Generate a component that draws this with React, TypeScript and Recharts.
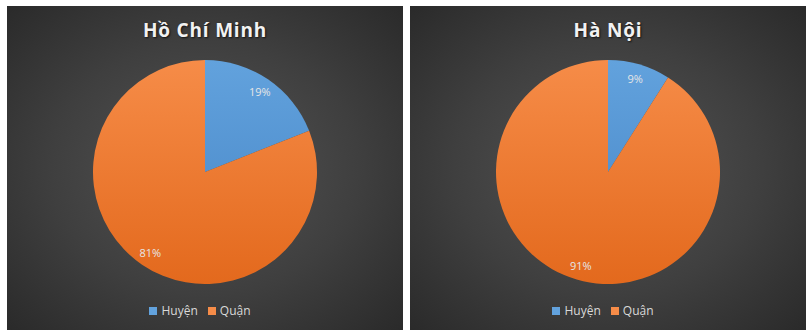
import { Cell, Legend, Pie, PieChart } from "recharts";

const categories = ["Huyện", "Quận"];
const hcmValues = [19, 81];
const hanoiValues = [9, 91];
const cityTitles = ["Hồ Chí Minh", "Hà Nội"];

const PANEL_W = 396;
const PANEL_H = 324;
const RADIUS = 112;
const CY = 166;

const RAD = Math.PI / 180;

function renderLabel(props: any) {
  const { cx, cy, midAngle, outerRadius, percent } = props;
  const r = outerRadius * 0.87;
  const x = cx + r * Math.cos(-midAngle * RAD);
  const y = cy + r * Math.sin(-midAngle * RAD);
  return (
    <text
      x={x}
      y={y}
      fill="#e6e6e6"
      fontSize={11}
      fontFamily="'Open Sans', sans-serif"
      textAnchor="middle"
      dominantBaseline="central"
    >
      {`${Math.round(percent * 100)}%`}
    </text>
  );
}

function CityPie({ title, values, id }: { title: string; values: number[]; id: string }) {
  const data = categories.map((name, i) => ({ name, value: values[i] }));
  return (
    <div
      style={{
        position: "absolute",
        top: 0,
        left: 0,
        width: PANEL_W,
        height: PANEL_H,
        background: "radial-gradient(ellipse at 50% 50%, #545454 0%, #3f3f3f 55%, #2a2a2a 100%)",
      }}
    >
      <div
        style={{
          position: "absolute",
          top: 11,
          left: 0,
          width: PANEL_W,
          textAlign: "center",
          color: "#f2f2f2",
          fontFamily: "'Open Sans', sans-serif",
          fontWeight: 700,
          fontSize: 19,
          letterSpacing: 0.8,
          textShadow: "1px 1px 2px rgba(0,0,0,0.7)",
        }}
      >
        {title}
      </div>
      <PieChart
        width={PANEL_W}
        height={PANEL_H}
        margin={{ top: 0, right: 0, bottom: 0, left: 0 }}
        style={{ position: "absolute", top: 0, left: 0 }}
      >
        <defs>
          <linearGradient id={`${id}-blue`} gradientUnits="userSpaceOnUse" x1="0" y1={CY - RADIUS} x2="0" y2={CY + RADIUS}>
            <stop offset="0%" stopColor="#62a2dd" />
            <stop offset="100%" stopColor="#4584c5" />
          </linearGradient>
          <linearGradient id={`${id}-orange`} gradientUnits="userSpaceOnUse" x1="0" y1={CY - RADIUS} x2="0" y2={CY + RADIUS}>
            <stop offset="0%" stopColor="#f68c48" />
            <stop offset="100%" stopColor="#e3691d" />
          </linearGradient>
        </defs>
        <Pie
          data={data}
          dataKey="value"
          nameKey="name"
          cx={PANEL_W / 2}
          cy={CY}
          outerRadius={RADIUS}
          startAngle={90}
          endAngle={-270}
          stroke="none"
          label={renderLabel}
          labelLine={false}
          isAnimationActive={false}
        >
          <Cell fill={`url(#${id}-blue)`} />
          <Cell fill={`url(#${id}-orange)`} />
        </Pie>
        <Legend
          verticalAlign="bottom"
          iconType="square"
          iconSize={8}
          payload={[
            { value: categories[0], type: "square", color: "#5b9bd5" },
            { value: categories[1], type: "square", color: "#ed7d31" },
          ]}
          formatter={(v: string) => (
            <span style={{ color: "#d9d9d9", fontSize: 12, fontFamily: "'Open Sans', sans-serif" }}>{v}</span>
          )}
          wrapperStyle={{ bottom: 12, lineHeight: "14px" }}
        />
      </PieChart>
    </div>
  );
}

export default function App() {
  return (
    <div style={{ position: "absolute", top: 0, left: 0, width: 812, height: 336, background: "#ffffff" }}>
      <div style={{ position: "absolute", left: 7, top: 6, width: PANEL_W, height: PANEL_H }}>
        <CityPie title={cityTitles[0]} values={hcmValues} id="hcm" />
      </div>
      <div style={{ position: "absolute", left: 410, top: 6, width: PANEL_W, height: PANEL_H }}>
        <CityPie title={cityTitles[1]} values={hanoiValues} id="hn" />
      </div>
    </div>
  );
}
